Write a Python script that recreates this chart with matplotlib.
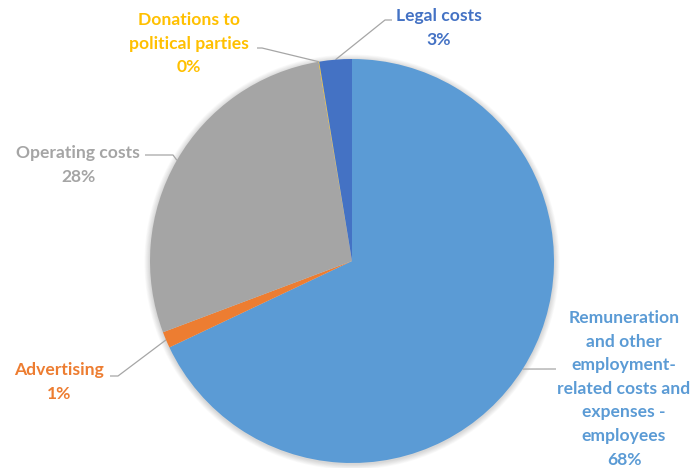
import matplotlib.pyplot as plt
from matplotlib.patches import Circle
import numpy as np

# data, clockwise from 12 o'clock
categories = ["Remuneration\nand other\nemployment-\nrelated costs and\nexpenses -\nemployees",
              "Advertising", "Operating costs", "Donations to\npolitical parties", "Legal costs"]
shares = [68.0, 1.3, 28.1, 0.05, 2.6]
colors = ["#5B9BD5", "#ED7D31", "#A5A5A5", "#FFC000", "#4472C4"]

W, H = 696, 468
CX, CY, R = 352, 261, 202  # pie centre / radius in pixels (top-down y)

def fy(y):
    # top-down pixel y -> data y
    return H - y

fig = plt.figure(figsize=(W / 100, H / 100), dpi=100)
ax = fig.add_axes([0, 0, 1, 1])

# soft shadow halo behind the pie
for k in range(1, 9):
    ax.add_patch(Circle((CX, fy(CY + 1)), R + k * 0.7, color="black",
                        alpha=0.018, lw=0, zorder=0))

wedges, _ = ax.pie(shares, colors=colors, startangle=90, counterclock=False,
                   center=(CX, fy(CY)), radius=R,
                   wedgeprops=dict(linewidth=0, zorder=2))

total = sum(shares)
# text centre (x, y of first line) and the elbow points of each leader line
label_pos = [(624, 318), (59, 370), (78, 153), (189, 20), (439, 16)]
leader_ends = [[(556, 369)], [(118, 376), (110, 376)], [(173, 155), (145, 155)],
               [(262, 48), (257, 48)], [(385, 20), (392, 20)]]
LINE = 23.6

for w, cat, val, col, (tx, ty), ends in zip(wedges, categories, shares, colors,
                                            label_pos, leader_ends):
    mid = np.deg2rad((w.theta1 + w.theta2) / 2)
    ex, ey = CX + R * np.cos(mid), fy(CY) + R * np.sin(mid)
    xs = [ex] + [p[0] for p in ends]
    ys = [ey] + [fy(p[1]) for p in ends]
    ax.plot(xs, ys, color="#A6A6A6", lw=0.9, zorder=1, solid_capstyle="butt")
    lines = cat.split("\n") + [f"{val / total * 100:.0f}%"]
    for i, ln in enumerate(lines):
        ax.text(tx, fy(ty + i * LINE), ln, ha="center", va="center",
                color=col, fontsize=12.6, fontweight="bold", family="Lato")

ax.set_xlim(0, W)
ax.set_ylim(0, H)
ax.set_aspect("equal")
ax.axis("off")
fig.savefig("out.png", dpi=100)
